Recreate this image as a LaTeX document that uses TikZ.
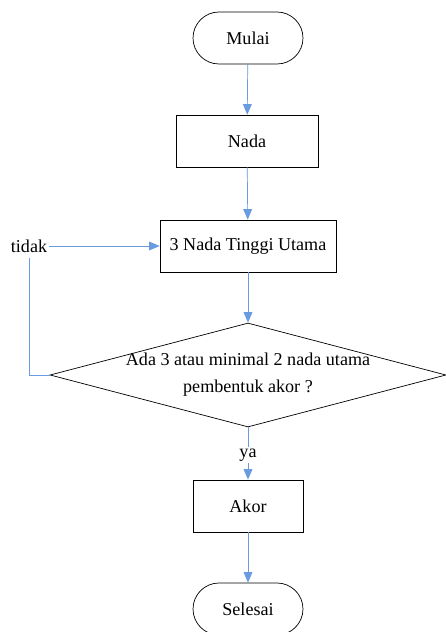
\documentclass[tikz,border=0pt]{standalone}
\usepackage{fontspec}
\setmainfont{Liberation Serif}
\usetikzlibrary{shapes.geometric,arrows.meta,positioning}
\definecolor{garis}{RGB}{105,155,225}

\tikzset{
  terminal/.style={draw,rounded corners=0.52cm,minimum width=2.2cm,minimum height=1.04cm},
  proses/.style={draw,minimum height=1.04cm},
  keputusan/.style={draw,diamond,aspect=3.8,minimum width=7.92cm,minimum height=2.08cm,inner xsep=-0.4cm,inner ysep=0pt,align=center},
  panah/.style={draw=garis,-{Triangle[length=6pt,width=5pt]},fill=garis},
  garisan/.style={draw=garis}
}

\begin{document}
\begin{tikzpicture}[x=0.02cm,y=-0.02cm,font=\fontsize{10.3}{15.5}\selectfont]
\useasboundingbox (0,0) rectangle (446,632);
\node[terminal] (mulai) at (248,38) {Mulai};
\node[proses,minimum width=2.84cm] (nada) at (247,141) {Nada};
\node[proses,minimum width=3.52cm] (utama) at (248,246) {3 Nada Tinggi Utama};
\node[keputusan] (cek) at (248,375) {Ada 3 atau minimal 2 nada utama\\pembentuk akor ?};
\node[inner sep=1pt] (tidak) at (29,246) {tidak};
\node[inner sep=1pt] (ya) at (248,455) {ya};
\node[proses,minimum width=2.2cm] (akor) at (248,506) {Akor};
\node[terminal] (selesai) at (248,609) {Selesai};

\path[panah] (mulai) -- (nada);
\path[panah] (nada) -- (utama);
\path[panah] (utama) -- (cek);
\path[garisan] (cek.west) -| ([yshift=-0.08cm]tidak.south);
\path[panah] (tidak) -- (utama);
\path[garisan] (cek.south) -- (ya);
\path[panah] (ya) -- (akor);
\path[panah] (akor) -- (selesai);
\end{tikzpicture}
\end{document}
